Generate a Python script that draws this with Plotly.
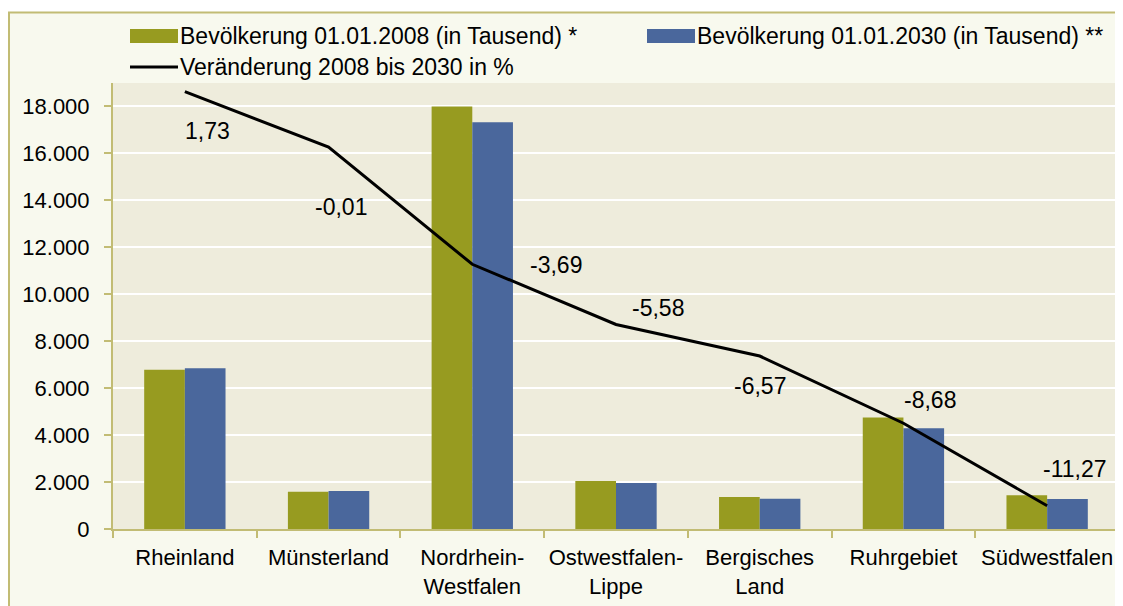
import plotly.graph_objects as go

# data
regions = ["Rheinland", "Münsterland", "Nordrhein-<br>Westfalen", "Ostwestfalen-<br>Lippe",
           "Bergisches<br>Land", "Ruhrgebiet", "Südwestfalen"]
pop_2008 = [6780, 1590, 17996, 2045, 1365, 4755, 1435]
pop_2030 = [6850, 1620, 17330, 1960, 1290, 4290, 1280]
change_pct = [1.73, -0.01, -3.69, -5.58, -6.57, -8.68, -11.27]

name_2008 = "Bevölkerung 01.01.2008 (in Tausend) *"
name_2030 = "Bevölkerung 01.01.2030 (in Tausend) **"
name_change = "Veränderung 2008 bis 2030 in %"

# label offsets (px, plotly direction) for the line labels, hand placed like in the original
label_shift = [(23, -39), (12, -60), (84, -1), (42, 16), (0, -30), (27, 23), (28, 37)]

GREEN = "#979B20"
BLUE = "#4A679C"
OLIVE = "#C2BC74"
FONT = "Liberation Sans, Arial, sans-serif"

# page body adds an 8px margin, so the figure is a bit smaller than the window
OFF = 8
W, H = 1123 - OFF, 606 - OFF
L, R, T, B = 105, 4, 75, 77
PW, PH = W - L - R, H - T - B


def px_x(px):
    # screen pixel -> paper coordinate
    return (px - OFF - L) / PW


def px_y(py):
    return (H - B - (py - OFF)) / PH


fig = go.Figure()
fig.add_trace(go.Bar(x=regions, y=pop_2008, name=name_2008, marker=dict(color=GREEN, line=dict(width=0))))
fig.add_trace(go.Bar(x=regions, y=pop_2030, name=name_2030, marker=dict(color=BLUE, line=dict(width=0))))
fig.add_trace(go.Scatter(x=regions, y=change_pct, name=name_change, yaxis="y2", mode="lines",
                         line=dict(color="black", width=3)))

shapes = [
    # outer chart frame
    dict(type="rect", xref="paper", yref="paper", x0=px_x(9), x1=px_x(1140), y0=px_y(12.5), y1=px_y(640),
         fillcolor="#F8F9EE", line=dict(color=OLIVE, width=2), layer="below"),
    # plot area background
    dict(type="rect", xref="paper", yref="paper", x0=0, x1=1, y0=0, y1=1,
         fillcolor="#EEECDC", line=dict(width=0), layer="below"),
    # legend swatches
    dict(type="rect", xref="paper", yref="paper", x0=px_x(130), x1=px_x(178), y0=px_y(43), y1=px_y(29),
         fillcolor=GREEN, line=dict(width=0)),
    dict(type="rect", xref="paper", yref="paper", x0=px_x(647), x1=px_x(695), y0=px_y(43), y1=px_y(29),
         fillcolor=BLUE, line=dict(width=0)),
    dict(type="line", xref="paper", yref="paper", x0=px_x(130), x1=px_x(178), y0=px_y(67), y1=px_y(67),
         line=dict(color="black", width=3)),
]

annotations = [
    dict(text=name_2008, xref="paper", yref="paper", x=px_x(178), y=px_y(36), xanchor="left", yanchor="middle",
         showarrow=False, font=dict(size=23, color="black", family=FONT)),
    dict(text=name_2030, xref="paper", yref="paper", x=px_x(695), y=px_y(36), xanchor="left", yanchor="middle",
         showarrow=False, font=dict(size=23, color="black", family=FONT)),
    dict(text=name_change, xref="paper", yref="paper", x=px_x(178), y=px_y(67), xanchor="left", yanchor="middle",
         showarrow=False, font=dict(size=23, color="black", family=FONT)),
]
for reg, val, (dx, dy) in zip(regions, change_pct, label_shift):
    annotations.append(dict(text=f"{val:.2f}".replace(".", ","), x=reg, y=val, xref="x", yref="y2",
                            xshift=dx, yshift=dy, showarrow=False,
                            font=dict(size=23, color="black", family=FONT)))

fig.update_layout(
    width=W, height=H,
    margin=dict(l=L, r=R, t=T, b=B, autoexpand=False),
    paper_bgcolor="white",
    plot_bgcolor="rgba(0,0,0,0)",
    font=dict(family=FONT, size=22, color="black"),
    separators=",.",
    barmode="group",
    bargap=0.434,
    bargroupgap=0,
    showlegend=False,
    shapes=shapes,
    annotations=annotations,
    xaxis=dict(
        showline=True, linecolor=OLIVE, linewidth=2, automargin=False, tickangle=0,
        ticks="outside", tickson="boundaries", ticklen=7, tickcolor=OLIVE, tickwidth=2,
        ticklabelstandoff=8, showgrid=False, tickfont=dict(size=22),
    ),
    yaxis=dict(
        range=[0, 19000], tickvals=[0, 2000, 4000, 6000, 8000, 10000, 12000, 14000, 16000, 18000],
        tickformat=",d", showline=True, linecolor=OLIVE, linewidth=2, automargin=False,
        ticks="outside", ticklen=7, tickcolor=OLIVE, tickwidth=2, ticklabelstandoff=10,
        showgrid=True, gridcolor="white", gridwidth=2, zeroline=False, tickfont=dict(size=22),
    ),
    yaxis2=dict(range=[-12, 2], overlaying="y", side="right", visible=False, showgrid=False),
)

fig.write_html("out.html")
